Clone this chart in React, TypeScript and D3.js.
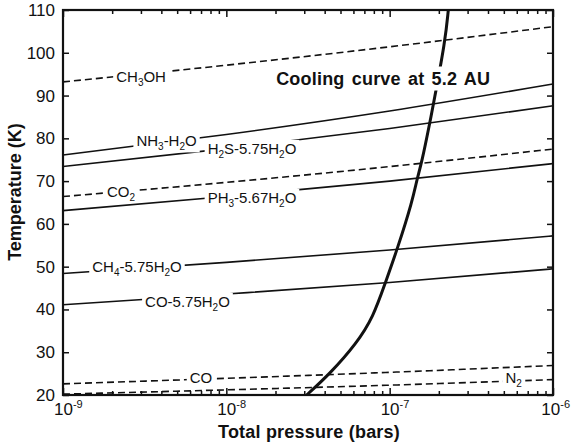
import * as d3 from "d3"
import { useEffect, useRef } from "react"

// pressure decades (log10 bars) where the condensation curves were read
const decades = [-9, -8, -7, -6]
const tempTicks = [20, 30, 40, 50, 60, 70, 80, 90, 100, 110]

// temperatures (K) at 1e-9, 1e-8, 1e-7, 1e-6 bars
const ch3oh = [93.2, 97.1, 101.4, 106.1]
const nh3 = [76.1, 80.9, 86.4, 92.7]
const h2s = [73.4, 77.6, 82.3, 87.6]
const co2 = [66.4, 69.7, 73.4, 77.5]
const ph3 = [63.1, 66.4, 70.0, 74.1]
const ch4 = [48.4, 51.0, 53.9, 57.2]
const coHydrate = [41.1, 43.6, 46.3, 49.5]
const coPure = [22.6, 23.9, 25.3, 26.9]
const n2 = [20.2, 21.2, 22.3, 23.6]

// cooling curve at 5.2 AU
const coolLogP = [-7.508, -7.365, -7.2015, -7.100, -7.028, -6.953, -6.859, -6.834, -6.803, -6.753, -6.732, -6.659, -6.641]
const coolT = [20, 25.0, 32.1, 38.3, 46.1, 54.1, 65.6, 70.3, 74.4, 83.9, 88, 103, 110]

// "_x" = subscript x
const names = ["CH_3OH", "NH_3-H_2O", "H_2S-5.75H_2O", "CO_2", "PH_3-5.67H_2O", "CH_4-5.75H_2O", "CO-5.75H_2O", "CO", "N_2"]
const dashed = [true, false, false, true, false, false, false, true, true]
const series = [ch3oh, nh3, h2s, co2, ph3, ch4, coHydrate, coPure, n2]
// where each label sits along its curve (log10 P) and a small vertical nudge
const labelAt = [-8.522, -8.366, -7.843, -8.645, -7.843, -8.547, -8.238, -8.155, -6.241]
const labelDy = [3, -1, 3, 0, 3.4, -2, 5, -2, -3]

const font = "'Liberation Sans', Arial, Helvetica, sans-serif"

export default function App() {
  const ref = useRef<SVGSVGElement>(null)

  useEffect(() => {
    const W = 571, H = 448
    const margin = { top: 10, right: 18, bottom: 53, left: 63 }
    const width = W - margin.left - margin.right
    const height = H - margin.top - margin.bottom

    const root = d3.select(ref.current)
    root.selectAll("*").remove()
    const svg = root.append("g").attr("transform", `translate(${margin.left},${margin.top})`)

    const x = d3.scaleLog().domain([1e-9, 1e-6]).range([0, width])
    const y = d3.scaleLinear().domain([20, 110]).range([height, 0])
    const lx = (lp: number) => x(Math.pow(10, lp))

    const line = d3.line<[number, number]>()
      .x(d => lx(d[0]))
      .y(d => y(d[1]))
      .curve(d3.curveMonotoneX)

    // condensation curves
    series.forEach((vals, i) => {
      svg.append("path")
        .datum(decades.map((p, j) => [p, vals[j]] as [number, number]))
        .attr("d", line)
        .attr("fill", "none")
        .attr("stroke", "#111")
        .attr("stroke-width", 1.6)
        .attr("stroke-dasharray", dashed[i] ? "7,4" : null)
    })

    // labels with white knock-out behind them
    series.forEach((vals, i) => {
      const lp = labelAt[i]
      const ty = d3.scaleLinear().domain(decades).range(vals)(lp)
      const cx = lx(lp)
      const cy = y(ty) + labelDy[i]
      const g = svg.append("g")
      const bg = g.append("rect").attr("fill", "white")
      const t = g.append("text")
        .attr("x", cx).attr("y", cy + 5.4)
        .attr("text-anchor", "middle")
        .attr("font-family", font)
        .attr("font-size", 15)
        .attr("fill", "#111")
      const parts = names[i].split(/(_.)/).filter(s => s.length)
      let shifted = false
      parts.forEach(p => {
        if (p.startsWith("_")) {
          t.append("tspan").attr("font-size", 10).attr("dy", 4).text(p[1])
          shifted = true
        } else {
          t.append("tspan").attr("dy", shifted ? -4 : 0).text(p)
          shifted = false
        }
      })
      const bb = (t.node() as SVGTextElement).getBBox()
      bg.attr("x", bb.x - 3).attr("y", bb.y).attr("width", bb.width + 6).attr("height", bb.height)
    })

    // cooling curve
    svg.append("path")
      .datum(coolLogP.map((p, j) => [p, coolT[j]] as [number, number]))
      .attr("d", line.curve(d3.curveBasis))
      .attr("fill", "none")
      .attr("stroke", "#111")
      .attr("stroke-width", 3)

    const cg = svg.append("g")
    const cbg = cg.append("rect").attr("fill", "white")
    const ct = cg.append("text")
      .attr("x", lx(-7.04)).attr("y", y(94.1) + 6.5)
      .attr("text-anchor", "middle")
      .attr("font-family", font)
      .attr("font-size", 18)
      .attr("font-weight", "bold")
      .attr("letter-spacing", 0.2)
      .attr("word-spacing", 2)
      .attr("fill", "#111")
      .text("Cooling curve at 5.2 AU")
    const cb = (ct.node() as SVGTextElement).getBBox()
    cbg.attr("x", cb.x - 4).attr("y", cb.y - 2).attr("width", cb.width + 8).attr("height", cb.height + 4)

    // ticks
    const majors = decades.map(d => Math.pow(10, d))
    const minors = x.ticks().filter(v => !majors.some(m => Math.abs(m - v) / m < 1e-6))

    svg.append("g").attr("transform", `translate(0,${height})`)
      .call(d3.axisBottom(x).tickValues(majors).tickSizeInner(-7).tickSizeOuter(0).tickFormat(() => ""))
    svg.append("g").attr("transform", `translate(0,${height})`)
      .call(d3.axisBottom(x).tickValues(minors).tickSizeInner(-4).tickSizeOuter(0).tickFormat(() => ""))
    svg.append("g")
      .call(d3.axisTop(x).tickValues(majors).tickSizeInner(-7).tickSizeOuter(0).tickFormat(() => ""))
    svg.append("g")
      .call(d3.axisTop(x).tickValues(minors).tickSizeInner(-4).tickSizeOuter(0).tickFormat(() => ""))
    svg.append("g").attr("transform", `translate(${width},0)`)
      .call(d3.axisRight(y).tickValues(tempTicks).tickSizeInner(-6).tickSizeOuter(0).tickFormat(() => ""))

    const yAxis = svg.append("g")
      .call(d3.axisLeft(y).tickValues(tempTicks).tickSizeInner(-6).tickSizeOuter(0).tickPadding(8))
    yAxis.selectAll("text")
      .attr("font-family", font)
      .attr("font-size", 17)
      .attr("fill", "#111")

    svg.selectAll(".domain").remove()
    svg.selectAll(".tick line").attr("stroke", "#111").attr("stroke-width", 1.5)

    // frame
    svg.append("rect")
      .attr("width", width).attr("height", height)
      .attr("fill", "none").attr("stroke", "#111").attr("stroke-width", 2.2)

    // x tick labels 10^n
    decades.forEach((d, i) => {
      const last = i === decades.length - 1
      const t = svg.append("text")
        .attr("x", last ? W - margin.left - 1 : x(Math.pow(10, d)) - 9)
        .attr("y", height + 20)
        .attr("text-anchor", last ? "end" : "start")
        .attr("font-family", font)
        .attr("font-size", 17)
        .attr("fill", "#111")
      t.append("tspan").text("10")
      t.append("tspan").attr("font-size", 11).attr("dy", -7).text(String(d))
    })

    // axis titles
    svg.append("text")
      .attr("x", width / 2 + 1).attr("y", height + 43)
      .attr("text-anchor", "middle")
      .attr("font-family", font)
      .attr("font-size", 18)
      .attr("font-weight", "bold")
      .attr("letter-spacing", 0.2)
      .attr("fill", "#111")
      .text("Total pressure (bars)")

    svg.append("text")
      .attr("transform", `translate(${21 - margin.left},${192 - margin.top}) rotate(-90)`)
      .attr("text-anchor", "middle")
      .attr("font-family", font)
      .attr("font-size", 18)
      .attr("font-weight", "bold")
      .attr("fill", "#111")
      .text("Temperature (K)")
  }, [])

  return (
    <svg ref={ref} width={571} height={448}
      style={{ position: "absolute", left: 0, top: 0, background: "white" }} />
  )
}
